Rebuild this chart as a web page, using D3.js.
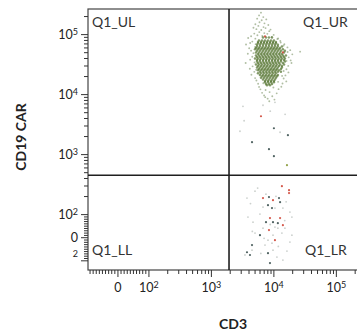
<!DOCTYPE html>
<html>
<head>
<meta charset="utf-8">
<script src="https://cdn.jsdelivr.net/npm/d3@7"></script>
<style>
  body { margin: 0; background: #fff; }
  svg { display: block; font-family: Lato, "Open Sans", sans-serif; }
</style>
</head>
<body>
<svg id="plot" width="357" height="332"></svg>
<script>
// eventos: [CD3, CD19 CAR]
// nube principal (Q1_UR) - nucleo denso
const corePoints = [
  [6820,88200],[7620,88200],[8500,88200],[9500,88200],
  [5880,78600],[6570,78600],[7340,78600],[8200,78600],[9160,78600],[10200,78600],
  [5670,74200],[6330,74200],[7070,74200],[7900,74200],[8820,74200],[9860,74200],[11000,74200],
  [5670,70100],[6330,70100],[7070,70100],[7900,70100],[8820,70100],[9860,70100],[11000,70100],
  [5470,66200],[6100,66200],[6820,66200],[7620,66200],[8500,66200],[9500,66200],[10600,66200],[11800,66200],
  [5470,62400],[6100,62400],[6820,62400],[7620,62400],[8500,62400],[9500,62400],[10600,62400],[11800,62400],[13700,62400],
  [5270,58900],[5880,58900],[6570,58900],[7340,58900],[8200,58900],[9160,58900],[10200,58900],[11400,58900],[12800,58900],
  [5080,55700],[5670,55700],[6330,55700],[7070,55700],[7900,55700],[8820,55700],[9860,55700],[11000,55700],[12300,55700],[14200,55700],
  [5470,52600],[6100,52600],[6820,52600],[7620,52600],[8500,52600],[9500,52600],[10600,52600],[11800,52600],[13200,52600],[15300,52600],
  [5270,49600],[5880,49600],[6570,49600],[7340,49600],[8200,49600],[9160,49600],[10200,49600],[11400,49600],[12800,49600],[14800,49600],
  [5670,46800],[6330,46800],[7070,46800],[7900,46800],[8820,46800],[9860,46800],[11000,46800],[12300,46800],[13700,46800],
  [5270,44200],[5880,44200],[6570,44200],[7340,44200],[8200,44200],[9160,44200],[10200,44200],[11400,44200],[12800,44200],[14200,44200],[15900,44200],
  [5470,41700],[6100,41700],[6820,41700],[7620,41700],[8500,41700],[9500,41700],[10600,41700],[11800,41700],[13200,41700],[14800,41700],
  [5080,39400],[5670,39400],[6330,39400],[7070,39400],[7900,39400],[8820,39400],[9860,39400],[11000,39400],[12300,39400],[13700,39400],[15300,39400],
  [5470,37200],[6100,37200],[6820,37200],[7620,37200],[8500,37200],[9500,37200],[10600,37200],[11800,37200],[13200,37200],[14800,37200],
  [5470,35100],[6100,35100],[6820,35100],[7620,35100],[8500,35100],[9500,35100],[10600,35100],[11800,35100],[13200,35100],[15300,35100],
  [5670,33100],[6330,33100],[7070,33100],[7900,33100],[8820,33100],[9860,33100],[11000,33100],[12300,33100],[14200,33100],
  [5270,31300],[5880,31300],[6570,31300],[7340,31300],[8200,31300],[9160,31300],[10200,31300],[11400,31300],[12800,31300],[14800,31300],
  [5670,29500],[6330,29500],[7070,29500],[7900,29500],[8820,29500],[9860,29500],[11000,29500],[12300,29500],[13700,29500],
  [5470,27900],[6100,27900],[6820,27900],[7620,27900],[8500,27900],[9500,27900],[10600,27900],[11800,27900],[13700,27900],
  [5880,26300],[6570,26300],[7340,26300],[8200,26300],[9160,26300],[10200,26300],[11400,26300],[13200,26300],
  [5670,24900],[6330,24900],[7070,24900],[7900,24900],[8820,24900],[9860,24900],[11000,24900],[12300,24900],
  [6100,23500],[6820,23500],[7620,23500],[8500,23500],[9500,23500],[10600,23500],[11800,23500],[13200,23500],
  [5670,22200],[6330,22200],[7070,22200],[7900,22200],[8820,22200],[9860,22200],[11000,22200],
  [6100,20900],[6820,20900],[7620,20900],[8500,20900],[9500,20900],[10600,20900],[11800,20900],
  [6570,19800],[7340,19800],[8200,19800],[9160,19800],[10200,19800],[11400,19800],
  [6330,18700],[7070,18700],[7900,18700],[8820,18700],[9860,18700],[11000,18700],
  [6820,17600],[7620,17600],[8500,17600],[9500,17600],[10600,17600],
  [7340,16600],[8200,16600],[9160,16600],[10200,16600],
  [7340,15700],[8200,15700],[9160,15700],[10200,15700],
  [7620,14800],[8500,14800],[9500,14800],
  [7900,14000],[8820,14000]
];

// nube principal - halo exterior
const haloPoints = [
  [6330,228000],[5900,205000],[6900,192000],[5500,181000],[6500,170000],[7700,176000],
  [6000,158000],[7200,151000],[5150,146000],[5750,137000],[6950,131000],[8300,142000],[4800,128000],
  [5350,121000],[6400,117000],[7500,126000],[9000,119000],[5950,108000],[7150,104000],[8600,112000],
  [4950,102000],[10100,97000],[5550,96000],[6650,93000],[8000,101000],[9400,90000],[4400,92000],
  [5150,84000],[11600,83000],[3950,86000],[4600,75000],[12900,77000],[3650,67000],[11900,84500],
  [4250,71000],[15000,68000],[4100,58000],[16800,60000],[4400,53000],[18600,54000],[3900,47000],
  [20100,46000],[26800,51000],[4600,42000],[17600,41000],[4250,37500],[18900,36500],[3600,33000],
  [19500,33000],[4650,29000],[17300,29500],[4200,26500],[16200,26000],[4950,23500],[17400,23000],
  [4450,21000],[15600,20500],[5100,18500],[14600,18200],[5350,16900],[16100,16300],[5700,14900],
  [14000,15000],[5900,13200],[13400,13300],[6200,12000],[12100,12100],[7500,11700],[10000,12900],
  [6600,10500],[8700,10800],[11300,10300],[7100,9500],[9600,9200],[8100,8400],[7400,8900],[10400,8100],
  [8600,7600],[6900,15200],[11900,16000],[13800,20100],[5300,25400],[14600,24300],[5000,33800],
  [16200,35800],[4800,48200],[16900,50400],[5100,61000],[14600,64500],[5200,68000],[13100,72600]
];

// eventos dispersos
const darkPoints = [
  [10200,2700],[17100,2070],[4550,1580],[8500,1210],[10200,923],
  [8500,192],[12300,185],[12800,158],[8200,141],[9500,126],[7620,65],[9860,65],[11800,61],
  [6100,9],[4550,-34],[3780,-65],[4220,-77],[8200,-69],[8820,-111]
];
const redPoints = [
  [7340,91600],[14200,49600],[6330,4280],
  [13700,292],[17800,251],[17800,224],[6820,185],[9860,171],[8820,83],[12800,83],[14200,52],
  [8500,31],[10600,-13]
];
const lightPoints = [
  [3260,6270],[6820,6520],[10600,7310],[2920,2405],[12800,2314],
  [5080,241],[3780,185],[6820,131],[10600,126],[14200,126],[18400,108],[19800,87],[3920,87],
  [4720,65],[10600,44],[6820,39],[11800,39],[15300,39],[5080,18],[9860,9],[13700,18],[19800,9],
  [8200,-13],[7340,-34],[9500,-26],[18400,-21],[3510,-77],[9860,-56],[11400,-86],[14200,-99],[4550,-56],
  [5600,272],[7600,215],[11000,198],[4300,150],[16000,160],[6100,100],[15200,72],[8900,55],
  [4600,25],[7100,-5],[12000,-40],[6300,-70],[16500,-60],[3400,3600],[15400,4600],[8900,5200]
];
const olivePoints = [[16500,654]];

// limites de los ejes y compuertas
const cd3Range = [-95, 262144];
const carRange = [-145, 262144];
const gateCD3 = 1950;
const gateCAR = 445;

// ticks principales
const xTicks = [0, 100, 1000, 10000, 100000];
const xTickBase = ["0", "10", "10", "10", "10"];
const xTickExp = ["", "2", "3", "4", "5"];
const yTicks = [-100, 0, 100, 1000, 10000, 100000];
const yTickBase = ["", "0", "10", "10", "10", "10"];
const yTickExp = ["2", "", "2", "3", "4", "5"];

const quadLabels = ["Q1_UL", "Q1_UR", "Q1_LL", "Q1_LR"];

// transformacion biexponencial simplificada (lineal cerca de 0, log arriba de 100)
function biex(a) {
  return v => {
    const m = Math.abs(v), s = Math.sign(v);
    return s * (m <= 100 ? m / 100 * a : a + Math.log10(m / 100));
  };
}
const tx = biex(0.496), ty = biex(0.385);

const mLeft = 88, mRight = 362, mTop = 9, mBottom = 270;

const x = d3.scaleLinear().domain(cd3Range.map(tx)).range([mLeft, mRight]);
const y = d3.scaleLinear().domain(carRange.map(ty)).range([mBottom, mTop]);
const px = v => x(tx(v)), py = v => y(ty(v));

function minorTicks(lo, hi) {
  let t = [];
  for (let i = 1; i < 10; i++) { t.push(i * 10); t.push(-i * 10); }
  for (let e = 2; e <= 5; e++)
    for (let m = 2; m <= 9; m++) { t.push(m * 10 ** e); t.push(-m * 10 ** e); }
  return t.filter(d => d > lo && d < hi);
}

const svg = d3.select("#plot");

svg.append("defs").append("clipPath").attr("id", "clip")
  .append("rect").attr("x", mLeft).attr("y", mTop)
  .attr("width", mRight - mLeft).attr("height", mBottom - mTop);

// puntos
const pts = svg.append("g").attr("clip-path", "url(#clip)");
function drawDots(data, color, r, op) {
  pts.append("g").selectAll("circle")
    .data(data)
    .join("circle")
    .attr("cx", d => px(d[0]))
    .attr("cy", d => py(d[1]))
    .attr("r", r)
    .attr("fill", color)
    .attr("fill-opacity", op);
}
drawDots(lightPoints, "#b5bcb8", 0.9, 0.7);
drawDots(haloPoints, "#8ea27c", 0.95, 0.7);
drawDots(corePoints, "#557530", 1.25, 0.72);
drawDots(darkPoints, "#3e5352", 1.1, 0.9);
drawDots(redPoints, "#d0483a", 1.1, 0.9);
drawDots(olivePoints, "#8a9a3a", 1.1, 0.9);

// marco
svg.append("rect")
  .attr("x", mLeft).attr("y", mTop)
  .attr("width", mRight - mLeft).attr("height", mBottom - mTop)
  .attr("fill", "none").attr("stroke", "#444").attr("stroke-width", 1.2);

// compuertas
svg.append("line")
  .attr("x1", px(gateCD3)).attr("x2", px(gateCD3))
  .attr("y1", mTop).attr("y2", mBottom)
  .attr("stroke", "#1f1f1f").attr("stroke-width", 1.6);
svg.append("line")
  .attr("x1", mLeft).attr("x2", mRight)
  .attr("y1", py(gateCAR)).attr("y2", py(gateCAR))
  .attr("stroke", "#1f1f1f").attr("stroke-width", 1.6);

// etiquetas de cuadrantes
const qg = svg.append("g").style("font-size", "14px").attr("fill", "#333");
qg.append("text").attr("x", mLeft + 4).attr("y", mTop + 18).text(quadLabels[0]);
qg.append("text").attr("x", 303).attr("y", mTop + 18).text(quadLabels[1]);
qg.append("text").attr("x", mLeft + 4).attr("y", 255).text(quadLabels[2]);
qg.append("text").attr("x", 305).attr("y", 255).text(quadLabels[3]);

function supLabels(sel, base, exp) {
  sel.selectAll(".tick text").each(function(d, i) {
    const t = d3.select(this).text("");
    if (base[i]) t.append("tspan").text(base[i]);
    if (exp[i]) t.append("tspan").attr("dy", "-0.45em").style("font-size", "9px").text(exp[i]);
  });
}

// eje x
const xAxis = svg.append("g").attr("transform", `translate(0,${mBottom})`)
  .call(d3.axisBottom(x).tickValues(xTicks.map(tx)).tickSize(7).tickSizeOuter(0).tickPadding(6))
  .style("font-size", "12.5px").style("font-family", "Lato, sans-serif");
supLabels(xAxis, xTickBase, xTickExp);
svg.append("g").attr("transform", `translate(0,${mBottom})`)
  .call(d3.axisBottom(x).tickValues(minorTicks(...cd3Range).map(tx)).tickSize(4).tickFormat(""));

// eje y
const yAxis = svg.append("g").attr("transform", `translate(${mLeft},0)`)
  .call(d3.axisLeft(y).tickValues(yTicks.map(ty)).tickSize(7).tickSizeOuter(0).tickPadding(3))
  .style("font-size", "12.5px").style("font-family", "Lato, sans-serif");
supLabels(yAxis, yTickBase, yTickExp);
svg.append("g").attr("transform", `translate(${mLeft},0)`)
  .call(d3.axisLeft(y).tickValues(minorTicks(...carRange).map(ty)).tickSize(4).tickFormat(""));

svg.selectAll(".domain").remove();
svg.selectAll(".tick line").attr("stroke", "#333");
svg.selectAll(".tick text").attr("fill", "#222");

// titulos de ejes
svg.append("text")
  .attr("x", 233).attr("y", 329)
  .attr("text-anchor", "middle")
  .style("font-size", "14px").style("font-weight", "bold").attr("fill", "#222")
  .text("CD3");
svg.append("text")
  .attr("transform", "translate(26,137) rotate(-90)")
  .attr("text-anchor", "middle")
  .style("font-size", "14px").style("font-weight", "bold").attr("fill", "#222")
  .text("CD19 CAR");
</script>
</body>
</html>
